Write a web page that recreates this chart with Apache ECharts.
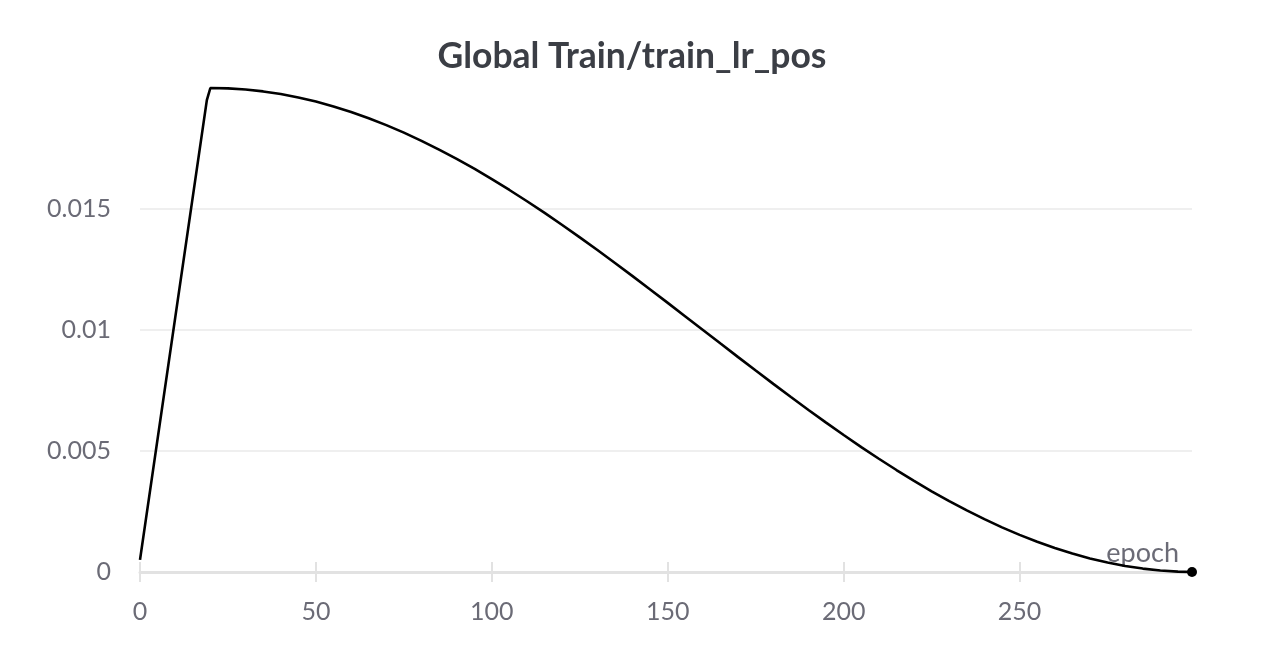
<!DOCTYPE html>
<html>
<head>
<meta charset="utf-8">
<script src="https://cdn.jsdelivr.net/npm/echarts@6/dist/echarts.min.js"></script>
<style>
html,body{margin:0;padding:0;background:#fff;}
#chart{width:1264px;height:664px;}
</style>
</head>
<body>
<div id="chart"></div>
<script>
var titleText = 'Global Train/train_lr_pos';
var xName = 'epoch';
var epochs = [0, 10, 19, 20, 25, 30, 35, 40, 45, 50, 55, 60, 65, 70, 75, 80, 85, 90, 95, 100,
  105, 110, 115, 120, 125, 130, 135, 140, 145, 150, 155, 160, 165, 170, 175, 180, 185, 190, 195, 200,
  205, 210, 215, 220, 225, 230, 235, 240, 245, 250, 255, 260, 265, 270, 275, 280, 285, 290, 295, 299];
var lrPos = [0.0005, 0.0105, 0.0195, 0.02, 0.019984, 0.019937, 0.019859, 0.019749, 0.019609, 0.019439,
  0.019239, 0.019010, 0.018752, 0.018467, 0.018156, 0.017818, 0.017456, 0.017071, 0.016664, 0.016235,
  0.015786, 0.015320, 0.014837, 0.014339, 0.013827, 0.013303, 0.012768, 0.012225, 0.011675, 0.011120,
  0.010561, 0.010000, 0.009439, 0.008880, 0.008325, 0.007775, 0.007232, 0.006697, 0.006173, 0.005661,
  0.005163, 0.004680, 0.004214, 0.003765, 0.003336, 0.002929, 0.002544, 0.002182, 0.001844, 0.001533,
  0.001248, 0.000990, 0.000761, 0.000561, 0.000391, 0.000251, 0.000141, 0.000063, 0.000016, 0.000001];
var xTicks = [0, 50, 100, 150, 200, 250];
var yTicks = [0, 0.005, 0.01, 0.015];

var FONT = 'Lato';
var labelColor = '#6b6b76';
var seriesData = epochs.map(function (e, i) {
  var item = { value: [e, lrPos[i]] };
  if (i === epochs.length - 1) {
    item.symbol = 'circle';
    item.symbolSize = 10;
  }
  return item;
});

var chart = echarts.init(document.getElementById('chart'), null, { renderer: 'canvas' });
chart.setOption({
  animation: false,
  backgroundColor: '#ffffff',
  title: {
    text: titleText,
    left: 'center',
    top: 34,
    textStyle: { fontFamily: FONT, fontSize: 35.5, fontWeight: 'bold', color: '#3b3e45' }
  },
  grid: { left: 140, right: 72, top: 88, bottom: 92, containLabel: false },
  xAxis: [{
    type: 'value',
    min: 0,
    max: 299,
    interval: 50,
    name: xName,
    nameLocation: 'end',
    nameGap: -13,
    nameTextStyle: {
      fontFamily: FONT, fontSize: 27, color: labelColor,
      align: 'right', verticalAlign: 'bottom', padding: [0, 0, 5, 0]
    },
    axisLine: { show: true, lineStyle: { color: '#e2e2e2', width: 3 } },
    axisTick: { show: true, inside: true, length: 10, customValues: xTicks, lineStyle: { color: '#e2e2e2', width: 2 } },
    axisLabel: { customValues: xTicks, margin: 27, fontFamily: FONT, fontSize: 25, color: labelColor },
    splitLine: { show: false }
  }, {
    type: 'value',
    min: 0,
    max: 299,
    position: 'bottom',
    axisLine: { show: false },
    axisTick: { show: true, inside: false, length: 10, customValues: xTicks, lineStyle: { color: '#e2e2e2', width: 2 } },
    axisLabel: { show: false },
    splitLine: { show: false }
  }],
  yAxis: {
    type: 'value',
    min: 0,
    max: 0.02,
    interval: 0.005,
    axisLine: { show: false },
    axisTick: { show: false },
    axisLabel: {
      showMaxLabel: false,
      margin: 29,
      fontFamily: FONT, fontSize: 25, color: labelColor,
      formatter: function (v) { return String(+v.toFixed(4)); }
    },
    splitLine: { show: true, showMaxLine: false, lineStyle: { color: '#efefef', width: 2 } }
  },
  series: [{
    type: 'line',
    xAxisIndex: 0,
    data: seriesData,
    symbol: 'none',
    showSymbol: true,
    clip: false,
    itemStyle: { color: '#000000' },
    lineStyle: { color: '#000000', width: 2.6 },
    z: 5
  }]
});
</script>
</body>
</html>
